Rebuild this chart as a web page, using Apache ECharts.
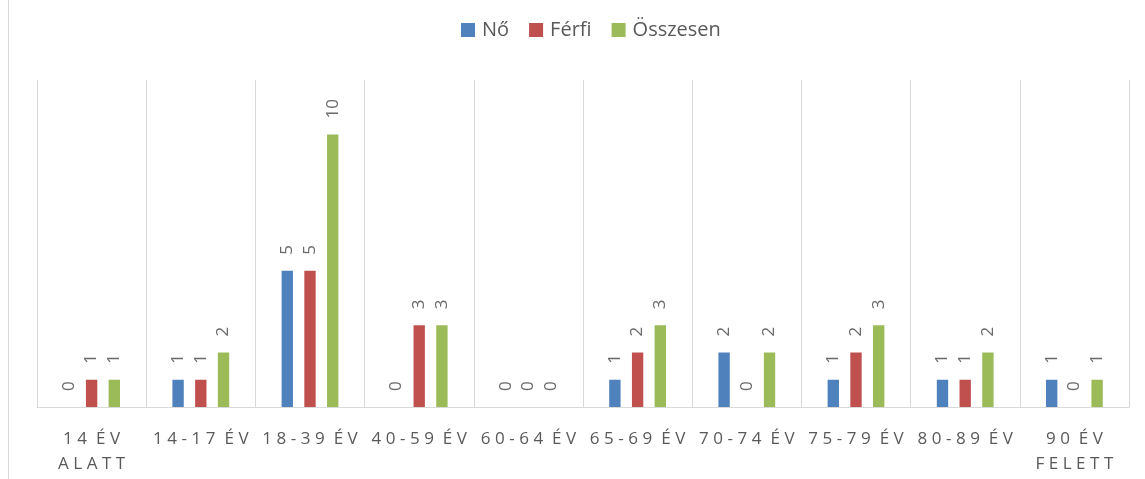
<!DOCTYPE html>
<html style="height: 100%">
    <head>
        <meta charset="utf-8">
    </head>
    <body style="height: 100%; margin: 0; background: #fff">
        <div id="container" style="width: 1145px; height: 479px"></div>
        <script type="text/javascript" src="https://cdn.jsdelivr.net/npm/echarts@6/dist/echarts.min.js"></script>
        <script type="text/javascript">
var categories = ['14 ÉV\nALATT', '14-17 ÉV', '18-39 ÉV', '40-59 ÉV', '60-64 ÉV', '65-69 ÉV', '70-74 ÉV', '75-79 ÉV', '80-89 ÉV', '90 ÉV\nFELETT'];
var no = [0, 1, 5, 0, 0, 1, 2, 1, 1, 1];
var ferfi = [1, 1, 5, 3, 0, 2, 0, 2, 1, 0];
var osszesen = [1, 2, 10, 3, 0, 3, 2, 3, 2, 1];

var dom = document.getElementById("container");
var myChart = echarts.init(dom);

var labelStyle = {
    show: true,
    position: 'top',
    rotate: 90,
    align: 'left',
    verticalAlign: 'middle',
    distance: 16,
    color: '#6a6a6a',
    fontFamily: 'Open Sans',
    fontSize: 17
};

// spread letters like the original's character spacing
var sep = '\u2009\u200A';
function spaced(s) {
    return s.split('\n').map(function (line) {
        return line.split(' ').map(function (w) {
            return w.split('').join(sep);
        }).join(sep + ' ');
    }).join('\n');
}

var option = {
    backgroundColor: '#fff',
    textStyle: { fontFamily: 'Open Sans' },
    legend: {
        top: 15,
        left: 456,
        itemWidth: 14,
        itemHeight: 14,
        itemGap: 20,
        icon: 'rect',
        textStyle: { color: '#595959', fontSize: 20, fontFamily: 'Open Sans', padding: [0, 0, 0, 2] },
        data: ['Nő', 'Férfi', 'Összesen']
    },
    graphic: [{
        type: 'line',
        shape: { x1: 8.5, y1: 0, x2: 8.5, y2: 479 },
        style: { stroke: '#d9d9d9', lineWidth: 1 }
    }],
    grid: { left: 37, right: 16, top: 80, bottom: 72, containLabel: false },
    xAxis: {
        type: 'category',
        data: categories,
        axisLine: { lineStyle: { color: '#d9d9d9' } },
        axisTick: { show: false },
        splitLine: { show: true, interval: 0, lineStyle: { color: '#d9d9d9' } },
        axisLabel: {
            interval: 0,
            margin: 20,
            color: '#595959',
            fontSize: 17,
            lineHeight: 25,
            fontFamily: 'Open Sans',
            formatter: spaced
        }
    },
    yAxis: {
        type: 'value',
        min: 0,
        max: 12,
        show: false,
        splitLine: { show: false }
    },
    series: [
        { name: 'Nő', type: 'bar', data: no, itemStyle: { color: '#4F81BD' }, label: labelStyle, barGap: '100%', barCategoryGap: '48%' },
        { name: 'Férfi', type: 'bar', data: ferfi, itemStyle: { color: '#C0504D' }, label: labelStyle, barGap: '100%', barCategoryGap: '48%' },
        { name: 'Összesen', type: 'bar', data: osszesen, itemStyle: { color: '#9BBB59' }, label: labelStyle, barGap: '100%', barCategoryGap: '48%' }
    ]
};

myChart.setOption(option);
        </script>
    </body>
</html>
